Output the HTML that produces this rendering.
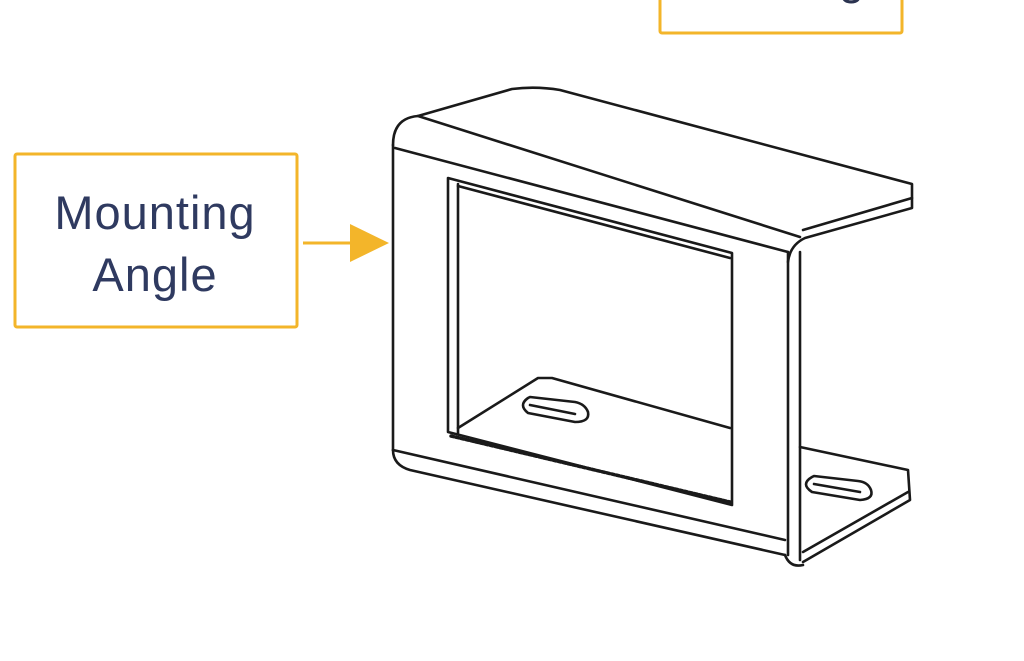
<!DOCTYPE html>
<html><head><meta charset="utf-8"><style>
html,body{margin:0;padding:0;background:#fff;width:1024px;height:661px;overflow:hidden}
</style></head><body>
<svg width="1024" height="661" viewBox="0 0 1024 661" xmlns="http://www.w3.org/2000/svg">
<rect x="0" y="0" width="1024" height="661" fill="#fff"/>
<rect x="660" y="-10" width="242" height="43" rx="2" fill="#fff" stroke="#f3b52a" stroke-width="3"/>
<text x="780" y="-6" font-family="Liberation Sans, sans-serif" font-size="46" fill="#2b3350" text-anchor="middle">Housing</text>
<rect x="15" y="154" width="282" height="173" rx="2" fill="#fff" stroke="#f3b52a" stroke-width="3"/>
<text x="155" y="229" font-family="Liberation Sans, sans-serif" font-size="47" fill="#2f3a60" text-anchor="middle" letter-spacing="1">Mounting</text>
<text x="155" y="291" font-family="Liberation Sans, sans-serif" font-size="47" fill="#2f3a60" text-anchor="middle" letter-spacing="1">Angle</text>
<line x1="303" y1="243" x2="352" y2="243" stroke="#f3b52a" stroke-width="3"/>
<polygon points="350,224 389,243 350,262" fill="#f3b52a"/>
<g fill="none" stroke="#1a1a1a" stroke-width="2.6" stroke-linejoin="round" stroke-linecap="round">
 <path d="M393,145 Q393,118 418,116 L512,89 Q536,86 560,90 L912,184 L912,208 L805,238 Q790,245 788,262"/>
 <line x1="418" y1="116" x2="800" y2="237"/>
 <line x1="912" y1="198" x2="803" y2="230"/>
 <line x1="393" y1="145" x2="393" y2="450"/>
 <line x1="395" y1="148" x2="788" y2="252"/>
 <path d="M393,450 Q393,465 410,470 L785,555"/>
 <line x1="393" y1="450" x2="785" y2="540"/>
 <line x1="788" y1="252" x2="788" y2="555"/>
 <line x1="800" y1="252" x2="800" y2="560"/>
 <path d="M785,555 Q790,568 803,565"/>
 <path d="M448,178 L732,253 L732,505 L448,432 Z"/>
 <line x1="458" y1="184" x2="458" y2="434"/>
 <line x1="458" y1="186" x2="730" y2="258"/>
 <line x1="451" y1="436" x2="730" y2="502" stroke-dasharray="3 2" stroke-width="3.5"/>
 <path d="M458,428 L538,378 L552,378 L730,428"/>
 <path d="M528,398 Q518,405 528,413 L575,422 Q590,422 588,412 Q585,404 575,402 L530,397 Z"/>
 <line x1="530" y1="405" x2="575" y2="414"/>
 <path d="M800,447 L908,470 L910,500 L803,562"/>
 <line x1="908" y1="492" x2="803" y2="552"/>
 <path d="M812,477 Q800,484 812,492 L860,500 Q874,499 871,490 Q868,482 858,481 L814,476 Z"/>
 <line x1="814" y1="484" x2="860" y2="492"/>
</g>
</svg>
</body></html>
